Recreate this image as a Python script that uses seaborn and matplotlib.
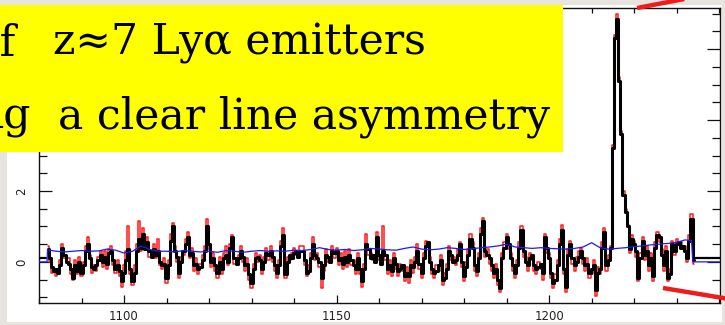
import numpy as np
import pandas as pd
import matplotlib
matplotlib.use("Agg")
import matplotlib.pyplot as plt
import seaborn as sns
from matplotlib.lines import Line2D
from matplotlib.patches import Rectangle
from matplotlib.ticker import MultipleLocator

# ---------------- data ----------------
wave_start = 1082.0   # first sample, Angstrom
wave_step = 0.5       # sampling of the spectrum

flux_black = [
    0.35, 0.1, -0.15, -0.25, -0.2, -0.3, -0.1, 0.4, 0.2, 0.0,
    -0.05, -0.2, -0.45, -0.1, -0.25, 0.0, -0.3, -0.1, 0.3, 0.5,
    0.1, -0.15, -0.2, -0.1, 0.05, 0.2, 0.0, 0.15, -0.05, 0.25,
    0.3, 0.05, -0.2, -0.1, -0.25, -0.55, -0.3, 0.05, 0.35, -0.2,
    -0.55, -0.3, 0.3, 0.65, 0.4, 0.8, 0.35, 0.55, 0.3, 0.15,
    0.35, 0.2, 0.3, 0.0, -0.1, -0.05, -0.45, -0.1, 0.6, 1.0,
    0.3, 0.15, -0.3, 0.0, 0.3, 0.5, 0.7, 0.2, 0.25, -0.1,
    -0.05, -0.2, -0.15, 0.05, 0.3, 1.0, 0.5, 0.0, 0.1, -0.1,
    -0.3, 0.0, -0.2, 0.1, 0.2, 0.0, 0.4, 0.7, 0.1, -0.05,
    0.1, 0.3, 0.15, -0.1, -0.05, -0.35, -0.6, -0.2, 0.1, 0.15,
    0.05, -0.2, 0.0, 0.25, 0.2, 0.3, 0.15, -0.1, -0.3, -0.1,
    0.45, 0.77, -0.35, 0.0, 0.2, 0.1, 0.25, 0.3, 0.15, 0.3,
    0.3, 0.05, -0.3, -0.25, 0.1, 0.5, 0.2, 0.1, 0.0, -0.45,
    -0.1, 0.2, 0.15, 0.0, 0.3, 0.25, 0.3, 0.05, 0.1, -0.05,
    0.15, 0.0, 0.2, 0.05, -0.1, -0.2, 0.1, -0.2, -0.55, -0.2,
    0.5, 0.35, 0.1, 0.2, 0.0, 0.7, 0.2, -0.05, 0.3, 0.2,
    -0.2, -0.1, -0.25, 0.1, -0.05, -0.25, -0.2, -0.1, -0.4, -0.3,
    -0.4, -0.1, -0.15, 0.0, 0.3, -0.05, -0.3, 0.1, 0.45, 0.55,
    0.0, -0.2, -0.3, -0.25, -0.1, 0.05, -0.5, -0.45, -0.2, 0.3,
    0.2, 0.0, 0.05, 0.2, 0.5, 0.0, -0.4, -0.15, 0.2, 0.65,
    0.4, -0.1, -0.25, 0.1, 0.8, 1.15, 0.3, 0.2, 0.1, -0.1,
    -0.3, -0.2, -0.5, -0.75, 0.1, 0.4, 0.7, 0.5, 0.1, -0.1,
    -0.3, -0.1, 0.4, 0.9, 0.3, 0.0, -0.1, 0.1, 0.2, -0.1,
    -0.2, -0.15, -0.05, -0.3, 0.7, 0.4, 0.1, -0.3, -0.6, -0.5,
    -0.1, 0.5, 0.9, -0.2, -0.7, 0.2, 0.5, 0.1, -0.1, 0.0,
    0.15, 0.3, 0.1, -0.1, -0.05, -0.3, -0.2, -0.1, -0.8, -0.3,
    -0.2, 0.4, 0.83, -0.1, 0.05, 0.4, 3.2, 6.3, 6.85, 5.1,
    3.6, 1.9, 1.4, 1.0, 0.35, 0.65, 0.5, 0.3, -0.45, 0.1,
    0.6, 0.2, 0.3, -0.1, 0.1, -0.4, 0.4, 0.75, 0.7, 0.2,
    -0.1, 0.3, -0.45, -0.35, 0.5, 0.3, 0.5, 0.55, 0.4, 0.45,
    0.3, 0.1, 0.6, 1.2, 0.05,
]

flux_red = [
    0.45, 0.0, -0.3, -0.2, -0.4, -0.25, 0.05, 0.5, 0.1, 0.1,
    0.1, -0.35, -0.5, 0.05, -0.35, 0.15, -0.4, 0.0, 0.45, 0.7,
    0.2, -0.3, -0.1, -0.25, 0.15, 0.3, -0.15, 0.3, -0.2, 0.35,
    0.45, -0.1, -0.3, 0.05, -0.4, -0.7, -0.1, 0.3, 1.0, -0.35,
    -0.65, -0.1, 0.5, 1.15, 0.3, 0.95, 0.5, 0.7, 0.15, 0.3,
    0.5, 0.1, 0.65, -0.1, -0.2, 0.1, -0.6, 0.05, 0.8, 1.1,
    0.45, 0.0, -0.45, 0.15, 0.2, 0.65, 0.85, 0.1, 0.4, -0.25,
    0.1, -0.35, -0.05, 0.2, 0.45, 1.2, 0.35, -0.15, 0.25, -0.25,
    -0.45, 0.15, -0.35, 0.25, 0.45, -0.1, 0.5, 0.75, -0.05, 0.1,
    0.2, 0.45, 0.0, -0.25, 0.1, -0.5, -0.75, -0.05, 0.25, 0.0,
    0.2, -0.35, 0.15, 0.4, 0.05, 0.45, 0.0, -0.25, -0.45, 0.05,
    0.6, 0.95, -0.45, 0.15, 0.05, 0.25, 0.4, 0.2, 0.3, 0.45,
    0.45, -0.1, -0.4, -0.1, 0.25, 0.7, 0.05, 0.25, -0.15, -0.75,
    -0.25, 0.35, 0.0, 0.15, 0.45, 0.1, 0.4, -0.1, 0.25, -0.2,
    0.3, -0.15, 0.35, -0.1, 0.05, -0.35, 0.25, -0.35, -0.7, -0.05,
    0.8, 0.2, 0.25, 0.05, 0.15, 0.85, 0.05, 0.1, 1.0, 0.05,
    -0.35, 0.05, -0.4, 0.25, -0.2, -0.4, -0.05, -0.25, -0.55, -0.15,
    -0.6, 0.05, -0.3, 0.15, 0.5, -0.2, -0.45, 0.25, 0.6, 0.5,
    0.15, -0.35, -0.45, -0.1, -0.25, 0.2, -0.65, -0.3, -0.05, 0.45,
    0.05, 0.15, -0.1, 0.35, 0.55, -0.15, -0.55, 0.0, 0.35, 0.8,
    0.55, -0.25, -0.4, 0.25, 0.95, 1.25, 0.15, 0.35, -0.05, -0.25,
    -0.45, -0.05, -0.65, -0.85, 0.25, 0.55, 0.8, 0.35, 0.25, -0.25,
    -0.45, 0.05, 0.55, 1.0, 0.15, 0.15, -0.25, 0.25, 0.05, -0.25,
    -0.35, 0.0, -0.2, -0.5, 0.8, 0.25, 0.25, -0.45, -0.75, -0.35,
    0.05, 0.65, 1.05, -0.35, -0.85, 0.35, 0.6, -0.05, -0.25, 0.15,
    0.3, 0.4, -0.05, -0.25, 0.1, -0.45, -0.35, 0.05, -0.95, -0.15,
    -0.35, 0.55, 0.95, -0.25, 0.2, 0.45, 3.3, 6.4, 7.0, 5.2,
    3.7, 2.0, 1.5, 1.05, 0.25, 0.75, 0.6, 0.15, -0.55, 0.25,
    0.7, 0.05, 0.45, -0.25, 0.25, -0.55, 0.55, 0.85, 0.55, 0.35,
    -0.25, 0.45, -0.55, -0.2, 0.6, 0.2, 0.65, 0.5, 0.55, 0.35,
    0.45, 0.0, 0.75, 1.35, -0.05,
]

# flat (unobserved) ends of the black spectrum
edge_left_wave = [1080.0, 1081.75]
edge_left_flux = [0.1, 0.1]
edge_right_wave = [1234.25, 1240.5]
edge_right_flux = [0.1, 0.1]

# blue noise (error) spectrum
err_wave = [1080, 1081.9, 1082, 1084, 1086, 1088, 1090, 1092, 1094, 1096, 1098,
            1100, 1102, 1104, 1106, 1108, 1110, 1112, 1114, 1116, 1118, 1120,
            1122, 1124, 1126, 1128, 1130, 1132, 1134, 1136, 1138, 1140, 1142,
            1144, 1146, 1148, 1150, 1152, 1154, 1156, 1158, 1160, 1162, 1164,
            1166, 1168, 1170, 1172, 1174, 1176, 1178, 1180, 1182, 1184, 1186,
            1188, 1190, 1192, 1194, 1196, 1198, 1200, 1202, 1204, 1206, 1208,
            1210, 1212, 1214, 1216, 1218, 1220, 1222, 1224, 1226, 1228, 1230,
            1232, 1233.5, 1233.8, 1240.5]
err_flux = [0.0, 0.0, 0.34, 0.3, 0.28, 0.3, 0.32, 0.3, 0.31, 0.36, 0.33,
            0.25, 0.3, 0.45, 0.35, 0.3, 0.3, 0.28, 0.32, 0.3, 0.28, 0.3,
            0.27, 0.32, 0.3, 0.27, 0.3, 0.32, 0.3, 0.31, 0.3, 0.33, 0.32,
            0.35, 0.4, 0.35, 0.33, 0.35, 0.32, 0.34, 0.38, 0.36, 0.34, 0.33,
            0.38, 0.42, 0.36, 0.34, 0.36, 0.4, 0.38, 0.35, 0.37, 0.4, 0.42,
            0.45, 0.5, 0.42, 0.4, 0.38, 0.4, 0.38, 0.37, 0.36, 0.38, 0.42,
            0.54, 0.4, 0.36, 0.38, 0.4, 0.43, 0.45, 0.48, 0.5, 0.52, 0.55,
            0.62, 0.6, 0.0, 0.0]

x_major = [1100, 1150, 1200]
y_major = [0, 2, 4, 6]
y_labels = ["0", "2", "", ""]   # 4 and 6 are hidden behind the caption box
x_range = [1080.0, 1240.2]
y_range = [-1.16, 7.16]

caption_line1 = ["of", "z≈7 Lyα emitters"]
caption_line2 = ["ng", "a clear line asymmetry"]

# ---------------- figure ----------------
sns.set_style("ticks")
plt.rcParams["font.family"] = ["DejaVu Sans"]

W, H = 725, 325
fig = plt.figure(figsize=(W / 100, H / 100), dpi=100)
fig.patch.set_facecolor("#e7e4e0")

def fx(px):
    return px / W

def fy(py):
    return 1 - py / H

# white slide image panel
fig.add_artist(Rectangle((fx(7), fy(322)), fx(722) - fx(7), fy(5) - fy(322),
                         transform=fig.transFigure, facecolor="white",
                         edgecolor="none", zorder=-1))

ax = fig.add_axes([fx(39), fy(303), fx(720) - fx(39), fy(8) - fy(303)])
ax.set_facecolor("white")

wave = wave_start + wave_step * np.arange(len(flux_black))
df = pd.DataFrame({"wave": wave, "black": flux_black, "red": flux_red})

sns.lineplot(data=df, x="wave", y="red", ax=ax, color="#ff1a1a", lw=1.1,
             drawstyle="steps-mid", estimator=None, zorder=2)
sns.lineplot(data=df, x="wave", y="black", ax=ax, color="black", lw=2.2,
             drawstyle="steps-mid", estimator=None, zorder=3)
sns.lineplot(x=edge_left_wave, y=edge_left_flux, ax=ax, color="black", lw=1.6,
             estimator=None, zorder=3)
sns.lineplot(x=edge_right_wave, y=edge_right_flux, ax=ax, color="black", lw=1.6,
             estimator=None, zorder=3)
sns.lineplot(x=err_wave, y=err_flux, ax=ax, color="#1a1aff", lw=0.9,
             estimator=None, zorder=4)

ax.set_xlim(*x_range)
ax.set_ylim(*y_range)
ax.set_xlabel("")
ax.set_ylabel("")

ax.set_xticks(x_major)
ax.set_xticklabels([str(v) for v in x_major])
ax.xaxis.set_minor_locator(MultipleLocator(10))
ax.set_yticks(y_major)
ax.set_yticklabels(y_labels, rotation=90, va="center")
ax.yaxis.set_minor_locator(MultipleLocator(0.5))

for s in ax.spines.values():
    s.set_visible(True)
    s.set_color("#111111")
    s.set_linewidth(1.0)

ax.tick_params(which="both", direction="in", top=True, right=True,
               color="#111111", width=0.9, labelcolor="#222222", labelsize=8.5)
ax.tick_params(axis="x", which="major", length=6, pad=5)
ax.tick_params(axis="x", which="minor", length=3.5)
ax.tick_params(axis="y", which="major", length=9.5, pad=8)
ax.tick_params(axis="y", which="minor", length=5.5)

# yellow caption box (slide overlay)
fig.add_artist(Rectangle((0, fy(152)), fx(563), fy(5) - fy(152),
                         transform=fig.transFigure, facecolor="#ffff00",
                         edgecolor="none", zorder=5))

serif = ["DejaVu Serif"]
fs = 30
kw = dict(va="baseline", fontsize=fs, family=serif, color="black", zorder=6)
t_a = fig.text(fx(16), fy(55), caption_line1[0], ha="right", **kw)
t_b = fig.text(fx(53), fy(55), caption_line1[1], ha="left", **kw)
t_c = fig.text(fx(31), fy(128), caption_line2[0], ha="right", **kw)
t_d = fig.text(fx(58), fy(128), caption_line2[1], ha="left", **kw)
fig.canvas.draw()
width_now = t_d.get_window_extent().width
new_fs = fs * (550 - 58) / width_now
for t in (t_a, t_b, t_c, t_d):
    t.set_fontsize(new_fs)

# red pointer lines of the slide
fig.add_artist(Line2D([fx(637), fx(700)], [fy(8), fy(-4)], transform=fig.transFigure,
                      color="#ee1c1c", lw=3.2, solid_capstyle="butt", zorder=6))
fig.add_artist(Line2D([fx(663), fx(735)], [fy(288), fy(300)], transform=fig.transFigure,
                      color="#ee1c1c", lw=3.2, solid_capstyle="butt", zorder=6))

fig.savefig("out.png", dpi=100, facecolor=fig.get_facecolor())
